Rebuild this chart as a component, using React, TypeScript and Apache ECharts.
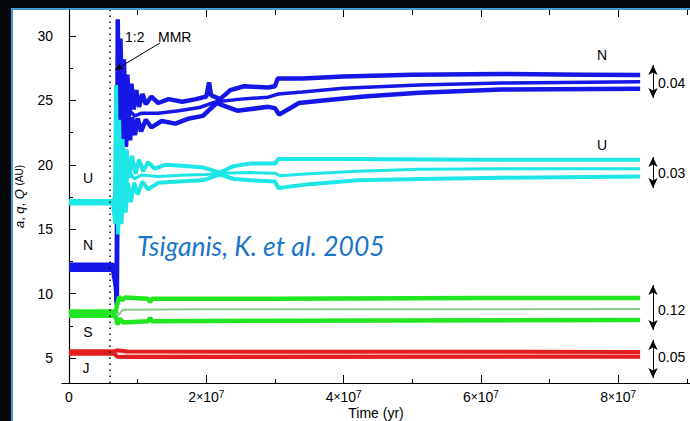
import React, { useEffect, useRef } from "react";
import * as echarts from "echarts";

// ---------- axes ----------
const X_MIN = -1.02e6;
const X_MAX = 90.46e6;
const Y_MIN = 3.06;
const Y_MAX = 32.02;
const xMajorTicks = [0, 2e7, 4e7, 6e7, 8e7];
const xMinorTicks = [1e7, 3e7, 5e7, 7e7, 9e7];
const yMajorTicks = [5, 10, 15, 20, 25, 30];
const yMinorTicks = [7.5, 12.5, 17.5, 22.5, 27.5];
const instabilityTime = 6e6;

// ---------- Neptune (a, q, Q) ----------
const neptuneQ = [[0,12.25],[6.4e6,12.25],[6.75e6,11.5],[6.95e6,9.3],[7.1e6,31.3],[7.3e6,22.5],[7.5e6,29.8],[7.75e6,23.2],[8.0e6,28.2],[8.25e6,23.6],[8.5e6,27.0],[8.8e6,24.0],[9.1e6,26.3],[9.4e6,24.3],[9.8e6,25.8],[1.02e7,24.5],[1.07e7,25.5],[1.12e7,24.7],[1.2e7,25.3],[1.3e7,24.8],[1.45e7,25.1],[1.65e7,24.9],[1.85e7,25.1],[2.0e7,25.3],[2.04e7,26.4],[2.07e7,25.4],[2.2e7,25.1],[2.35e7,25.8],[2.55e7,26.1],[2.9e7,26.0],[3.0e7,26.1],[3.04e7,26.7],[3.4e7,26.7],[4.0e7,26.85],[5.0e7,27.0],[6.3e7,27.05],[7.5e7,27.0],[8.32e7,26.97]];
const neptuneA = [[0,12.05],[6.4e6,12.05],[6.8e6,11.0],[6.95e6,9.6],[7.1e6,27.5],[7.3e6,21.5],[7.55e6,25.5],[7.8e6,22.8],[8.1e6,24.6],[8.5e6,23.5],[9.0e6,24.1],[9.6e6,23.8],[1.05e7,24.0],[1.3e7,24.0],[1.6e7,24.2],[1.9e7,24.45],[2.15e7,24.9],[2.5e7,25.1],[2.9e7,25.25],[3.05e7,25.5],[3.4e7,25.65],[4.0e7,25.95],[5.1e7,26.2],[6.3e7,26.35],[8.32e7,26.45]];
const neptuneq = [[0,11.85],[6.4e6,11.85],[6.85e6,10.5],[6.97e6,9.1],[7.1e6,24.5],[7.3e6,20.2],[7.55e6,24.2],[7.8e6,20.8],[8.05e6,24.0],[8.3e6,21.4],[8.6e6,23.9],[8.9e6,21.9],[9.2e6,23.7],[9.6e6,22.3],[1.0e7,23.6],[1.05e7,22.6],[1.12e7,23.5],[1.2e7,22.9],[1.35e7,23.4],[1.55e7,23.2],[1.75e7,23.6],[1.95e7,23.8],[2.15e7,24.8],[2.3e7,24.5],[2.45e7,24.2],[2.9e7,24.5],[3.0e7,24.4],[3.06e7,23.9],[3.35e7,24.8],[3.7e7,25.0],[4.3e7,25.3],[5.1e7,25.6],[6.3e7,25.85],[8.32e7,25.9]];

// ---------- Uranus ----------
const uranusQ = [[0,17.2],[6.4e6,17.2],[6.7e6,17.5],[6.85e6,26.2],[7.05e6,17.8],[7.3e6,23.5],[7.55e6,18.2],[7.8e6,22.0],[8.1e6,18.7],[8.4e6,21.2],[8.8e6,19.0],[9.2e6,20.7],[9.7e6,19.3],[1.02e7,20.4],[1.08e7,19.5],[1.15e7,20.2],[1.25e7,19.7],[1.4e7,20.0],[1.7e7,19.9],[1.95e7,19.8],[2.2e7,19.4],[2.4e7,19.9],[2.64e7,20.1],[3.0e7,20.1],[3.05e7,20.45],[4.0e7,20.45],[6.0e7,20.4],[8.32e7,20.4]];
const uranusA = [[0,17.1],[6.4e6,17.1],[6.75e6,16.5],[6.9e6,22.5],[7.1e6,16.2],[7.35e6,20.8],[7.6e6,17.4],[7.9e6,19.9],[8.3e6,18.4],[8.8e6,19.5],[9.5e6,18.9],[1.05e7,19.2],[1.3e7,19.1],[1.7e7,19.2],[2.0e7,19.25],[2.2e7,19.35],[2.64e7,19.4],[3.0e7,19.35],[3.07e7,19.15],[3.5e7,19.3],[4.2e7,19.5],[5.1e7,19.65],[6.3e7,19.7],[8.32e7,19.7]];
const uranusq = [[0,17.0],[6.4e6,17.0],[6.75e6,15.4],[6.95e6,19.8],[7.15e6,14.6],[7.4e6,19.0],[7.65e6,15.4],[7.95e6,18.8],[8.25e6,16.3],[8.6e6,18.6],[9.0e6,17.1],[9.5e6,18.6],[1.0e7,17.7],[1.07e7,18.7],[1.15e7,18.1],[1.3e7,18.6],[1.6e7,18.7],[1.95e7,18.8],[2.2e7,19.25],[2.4e7,18.9],[2.64e7,18.8],[3.0e7,18.7],[3.05e7,18.2],[3.5e7,18.5],[4.2e7,18.8],[5.1e7,18.9],[6.3e7,19.0],[8.32e7,19.1]];

// ---------- Saturn ----------
const saturnQ = [[0,8.62],[6.8e6,8.62],[7.0e6,9.1],[7.3e6,9.75],[7.8e6,9.5],[8.2e6,9.7],[1.15e7,9.6],[1.18e7,9.35],[1.21e7,9.6],[3.0e7,9.6],[6e7,9.65],[8.32e7,9.65]];
const saturnA = [[0,8.45],[6.8e6,8.45],[7.0e6,8.6],[7.3e6,8.35],[7.8e6,8.75],[2e7,8.78],[8.32e7,8.8]];
const saturnq = [[0,8.28],[6.8e6,8.28],[7.05e6,7.6],[7.4e6,8.05],[7.9e6,7.75],[1.15e7,7.85],[1.18e7,8.1],[1.21e7,7.85],[3e7,7.9],[8.32e7,7.95]];

// ---------- Jupiter ----------
const jupiterQ = [[0,5.52],[6.6e6,5.52],[7.0e6,5.6],[8.5e6,5.5],[8.32e7,5.47]];
const jupiterA = [[0,5.42],[6.6e6,5.42],[7.0e6,5.35],[8.5e6,5.28],[8.32e7,5.27]];
const jupiterq = [[0,5.34],[6.6e6,5.34],[7.0e6,5.1],[8.5e6,5.08],[8.32e7,5.1]];

// ---------- annotations (data coords) ----------
const mmrArrow = [[1.326e7, 29.46], [6.7e6, 27.36]];
const scaleArrowT = 8.507e7;
const scaleArrows = [
  { from: 27.75, to: 25.19, label: "0.04" },
  { from: 20.6, to: 18.2, label: "0.03" },
  { from: 10.67, to: 7.17, label: "0.12" },
  { from: 6.4, to: 3.45, label: "0.05" },
];

const FONT = '"Liberation Sans", Arial, sans-serif';
const BLUE = "#1616e6";
const CYAN = "#1ee6e6";
const GREEN = "#22e622";
const RED = "#e41e1e";

function lineSeries(data: number[][], color: string, width: number, extra: any = {}) {
  return {
    type: "line",
    data,
    showSymbol: false,
    symbol: "none",
    silent: true,
    animation: false,
    lineStyle: { color, width },
    ...extra,
  };
}

function textEl(text: string, x: number, y: number, size = 14, align = "center") {
  return {
    type: "text",
    x,
    y,
    silent: true,
    style: { text, fill: "#000", font: `${size}px ${FONT}`, align, verticalAlign: "middle" },
  };
}

export default function App() {
  const ref = useRef<HTMLDivElement>(null);
  useEffect(() => {
    document.body.style.margin = "0";
    const chart = echarts.init(ref.current!, null, { renderer: "svg" });
    const baseX = { type: "value", min: X_MIN, max: X_MAX, splitLine: { show: false } };
    const baseY = { type: "value", min: Y_MIN, max: Y_MAX, splitLine: { show: false } };
    const option: any = {
      animation: false,
      grid: { left: 62, right: 0, top: 10, bottom: 38, containLabel: false, outerBoundsMode: "none" },
      xAxis: [
        {
          ...baseX,
          position: "bottom",
          axisLine: { show: true, lineStyle: { color: "#000", width: 1.2 } },
          axisTick: { show: true, inside: true, length: 8, customValues: xMajorTicks, lineStyle: { color: "#000" } },
          axisLabel: {
            customValues: xMajorTicks,
            margin: 6,
            color: "#000",
            fontFamily: FONT,
            fontSize: 14,
            formatter: (v: number) => (v === 0 ? "{n|0}" : `{n|${v / 1e7}}{m|×}{n|10}{s|7}`),
            rich: {
              n: { fontSize: 14, fontFamily: FONT, color: "#000", lineHeight: 16 },
              m: { fontSize: 12, fontFamily: FONT, color: "#000", lineHeight: 16 },
              s: { fontSize: 10, fontFamily: FONT, color: "#000", verticalAlign: "top", lineHeight: 16, padding: [0, 0, 6, 0] },
            },
          },
          name: "Time (yr)",
          nameLocation: "middle",
          nameGap: 23,
          nameMoveOverlap: false,
          nameTextStyle: { color: "#000", fontFamily: FONT, fontSize: 14, verticalAlign: "top" },
        },
        {
          ...baseX,
          position: "bottom",
          axisLine: { show: false },
          axisTick: { show: true, inside: true, length: 4, customValues: xMinorTicks, lineStyle: { color: "#000" } },
          axisLabel: { show: false },
        },
        {
          ...baseX,
          position: "top",
          axisLine: { show: false },
          axisTick: { show: true, inside: true, length: 7, customValues: xMajorTicks, lineStyle: { color: "#000" } },
          axisLabel: { show: false },
        },
        {
          ...baseX,
          position: "top",
          axisLine: { show: false },
          axisTick: { show: true, inside: true, length: 5, customValues: xMinorTicks, lineStyle: { color: "#000" } },
          axisLabel: { show: false },
        },
      ],
      yAxis: [
        {
          ...baseY,
          position: "left",
          axisLine: { show: true, lineStyle: { color: "#000", width: 1.2 } },
          axisTick: { show: true, inside: true, length: 7, customValues: yMajorTicks, lineStyle: { color: "#000" } },
          axisLabel: { customValues: yMajorTicks, margin: 9, color: "#000", fontFamily: FONT, fontSize: 14 },
          name: "{i|a}, {i|q}, {i|Q} {s|(AU)}",
          nameLocation: "middle",
          nameGap: 36,
          nameMoveOverlap: false,
          nameTextStyle: {
            color: "#000",
            fontFamily: FONT,
            fontSize: 13,
            rich: {
              i: { fontStyle: "italic", fontFamily: FONT, fontSize: 13, color: "#000" },
              s: { fontFamily: FONT, fontSize: 10, color: "#000" },
            },
          },
        },
        {
          ...baseY,
          position: "left",
          axisLine: { show: false },
          axisTick: { show: true, inside: true, length: 4, customValues: yMinorTicks, lineStyle: { color: "#000" } },
          axisLabel: { show: false },
        },
      ],
      series: [
        lineSeries(neptuneQ, BLUE, 4.5),
        lineSeries(neptuneq, BLUE, 4.5),
        lineSeries(neptuneA, BLUE, 3.5),
        lineSeries(uranusQ, CYAN, 4),
        lineSeries(uranusq, CYAN, 4),
        lineSeries(uranusA, CYAN, 3),
        lineSeries(saturnA, "#8cc88c", 2),
        lineSeries(saturnQ, GREEN, 4.5),
        lineSeries(saturnq, GREEN, 4.5),
        lineSeries(jupiterA, "#f3b8b8", 1.2, {
          markLine: {
            silent: true,
            symbol: ["arrow", "arrow"],
            symbolSize: [7, 10],
            label: { show: false },
            lineStyle: { color: "#000", width: 1, type: "solid" },
            data: [
              [
                { coord: mmrArrow[0], symbol: "none" },
                { coord: mmrArrow[1], symbol: "arrow", symbolSize: [5, 8] },
              ],
              ...scaleArrows.map((s) => [
                { coord: [scaleArrowT, s.from] },
                { coord: [scaleArrowT, s.to] },
              ]),
            ],
          },
        }),
        lineSeries(jupiterQ, RED, 4, {
          markLine: {
            silent: true,
            symbol: "none",
            label: { show: false },
            lineStyle: { color: "#000", width: 1.5, type: [1.5, 4.5] },
            data: [{ xAxis: instabilityTime }],
          },
        }),
        lineSeries(jupiterq, RED, 4),
      ],
      graphic: [
        textEl("U", 88, 178),
        textEl("N", 88, 245),
        textEl("S", 88, 332),
        textEl("J", 86, 368),
        textEl("N", 602, 55),
        textEl("U", 602, 145),
        textEl("1:2", 125, 37, 14, "left"),
        textEl("MMR", 158, 37, 14, "left"),
        textEl("0.04", 658, 83, 14, "left"),
        textEl("0.03", 658, 173, 14, "left"),
        textEl("0.12", 658, 310, 14, "left"),
        textEl("0.05", 658, 357, 14, "left"),
        {
          type: "text",
          x: 137,
          y: 246,
          silent: true,
          style: {
            text: "Tsiganis, K. et al. 2005",
            fill: "#1b75c9",
            font: `italic 26.5px Lato, "Open Sans", sans-serif`,
            align: "left",
            verticalAlign: "middle",
          },
        },
      ],
    };
    chart.setOption(option);
    return () => chart.dispose();
  }, []);
  return (
    <div style={{ position: "fixed", left: 0, top: 0, width: 690, height: 421, background: "#03070b", overflow: "hidden" }}>
      <div
        style={{
          position: "absolute",
          left: 11,
          top: 8,
          right: 0,
          bottom: 0,
          background: "#fff",
          borderLeft: "2px solid #3d9fd3",
          borderTop: "2px solid #3d9fd3",
        }}
      />
      <div ref={ref} style={{ position: "absolute", left: 0, top: 0, width: 690, height: 421 }} />
    </div>
  );
}
